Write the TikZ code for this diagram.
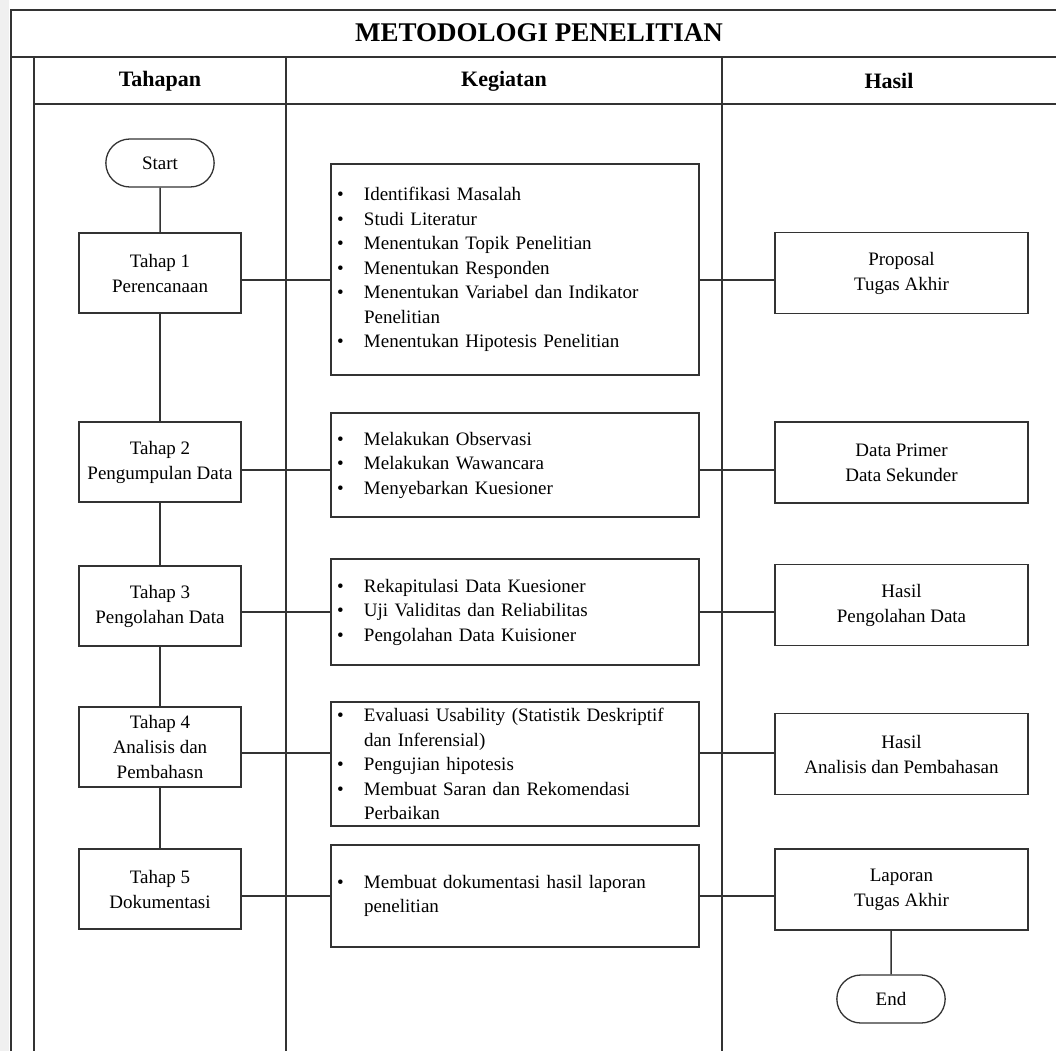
\documentclass[tikz,border=0pt]{standalone}
\usepackage{fontspec}
\setmainfont{Liberation Serif}
\usepackage{tikz}
\usetikzlibrary{shapes.misc}
\tikzstyle{frame}=[draw=black!80,line width=2pt]
\tikzstyle{link}=[draw=black!80,line width=1.5pt]
\tikzstyle{judul}=[font=\bfseries\fontsize{27}{30}\selectfont]
\tikzstyle{kolom}=[font=\bfseries\fontsize{22}{26}\selectfont]
\tikzstyle{terminal}=[rounded rectangle,draw=black!80,line width=1.3pt,minimum width=115pt,minimum height=48pt,font=\fontsize{19}{24}\selectfont]
\tikzstyle{tahap}=[rectangle,draw=black!80,line width=1.5pt,fill=white,minimum width=162pt,minimum height=80pt,align=center,font=\fontsize{19}{25}\selectfont]
\tikzstyle{kegiatan}=[rectangle,draw=black!80,line width=1.5pt,fill=white,text width=356pt,inner xsep=6pt,align=left,font=\fontsize{19}{24.5}\selectfont]
\tikzstyle{hasil}=[rectangle,draw=black!80,line width=1.5pt,fill=white,minimum width=253pt,minimum height=81pt,align=center,font=\fontsize{19}{25}\selectfont]
\newcommand{\butir}[1]{\makebox[27pt][l]{\textbullet}#1}
\newcommand{\lanjut}[1]{\hspace*{27pt}#1}

\begin{document}
\begin{tikzpicture}[x=1pt,y=-1pt]
        \useasboundingbox (0,0) rectangle (1056,1051);
        \fill [black!6] (0,0) rectangle (9,1051);

        \draw [frame] (11,1051) -- (11,10) -- (1056,10);
        \draw [frame] (11,57) -- (1056,57);
        \draw [frame] (34,57) -- (34,1051);
        \draw [frame] (34,104) -- (1056,104);
        \draw [frame] (286,57) -- (286,1051);
        \draw [frame] (722,57) -- (722,1051);

        \node at (539,33) [judul] (judul) {METODOLOGI PENELITIAN};
        \node at (160,81) [kolom] (kol1) {Tahapan};
        \node at (504,81) [kolom] (kol2) {Kegiatan};
        \node at (889,81) [kolom] (kol3) {Hasil};

        \node at (160,163) [terminal] (start) {Start};
        \node at (160,273) [tahap] (t1) {Tahap 1\\Perencanaan};
        \node at (160,462) [tahap] (t2) {Tahap 2\\Pengumpulan Data};
        \node at (160,606) [tahap] (t3) {Tahap 3\\Pengolahan Data};
        \node at (160,747) [tahap] (t4) {Tahap 4\\Analisis dan\\Pembahasn};
        \node at (160,889) [tahap] (t5) {Tahap 5\\Dokumentasi};

        \node at (515,269.5) [kegiatan,minimum height=211pt] (k1) {\butir{Identifikasi Masalah}\\\butir{Studi Literatur}\\\butir{Menentukan Topik Penelitian}\\\butir{Menentukan Responden}\\\butir{Menentukan Variabel dan Indikator}\\\lanjut{Penelitian}\\\butir{Menentukan Hipotesis Penelitian}};
        \node at (515,465) [kegiatan,minimum height=104pt] (k2) {\butir{Melakukan Observasi}\\\butir{Melakukan Wawancara}\\\butir{Menyebarkan Kuesioner}};
        \node at (515,612) [kegiatan,minimum height=106pt] (k3) {\butir{Rekapitulasi Data Kuesioner}\\\butir{Uji Validitas dan Reliabilitas}\\\butir{Pengolahan Data Kuisioner}};
        \node at (515,764) [kegiatan,minimum height=124pt] (k4) {\butir{Evaluasi Usability (Statistik Deskriptif}\\\lanjut{dan Inferensial)}\\\butir{Pengujian hipotesis}\\\butir{Membuat Saran dan Rekomendasi}\\\lanjut{Perbaikan}};
        \node at (515,896) [kegiatan,minimum height=102pt] (k5) {\butir{Membuat dokumentasi hasil laporan}\\\lanjut{penelitian}};

        \node at (901.5,273) [hasil] (h1) {Proposal\\Tugas Akhir};
        \node at (901.5,462.5) [hasil] (h2) {Data Primer\\Data Sekunder};
        \node at (901.5,605) [hasil] (h3) {Hasil\\Pengolahan Data};
        \node at (901.5,754) [hasil] (h4) {Hasil\\Analisis dan Pembahasan};
        \node at (901.5,889.5) [hasil] (h5) {Laporan\\Tugas Akhir};
        \node at (891,999) [terminal] (end) {End};

        \draw [link] (start) -- (t1);
        \draw [link] (t1) -- (t2);
        \draw [link] (t2) -- (t3);
        \draw [link] (t3) -- (t4);
        \draw [link] (t4) -- (t5);
        \draw [link] (end) -- (end |- h5.south);

        \draw [link] ([yshift=-7pt]t1.east) -- ([yshift=-7pt]t1.east -| k1.west);
        \draw [link] ([yshift=-7pt]t1.east -| k1.east) -- ([yshift=-7pt]t1.east -| h1.west);
        \draw [link] ([yshift=-8pt]t2.east) -- ([yshift=-8pt]t2.east -| k2.west);
        \draw [link] ([yshift=-8pt]t2.east -| k2.east) -- ([yshift=-8pt]t2.east -| h2.west);
        \draw [link] ([yshift=-6pt]t3.east) -- ([yshift=-6pt]t3.east -| k3.west);
        \draw [link] ([yshift=-6pt]t3.east -| k3.east) -- ([yshift=-6pt]t3.east -| h3.west);
        \draw [link] ([yshift=-6pt]t4.east) -- ([yshift=-6pt]t4.east -| k4.west);
        \draw [link] ([yshift=-6pt]t4.east -| k4.east) -- ([yshift=-6pt]t4.east -| h4.west);
        \draw [link] ([yshift=-7pt]t5.east) -- ([yshift=-7pt]t5.east -| k5.west);
        \draw [link] ([yshift=-7pt]t5.east -| k5.east) -- ([yshift=-7pt]t5.east -| h5.west);
\end{tikzpicture}
\end{document}
